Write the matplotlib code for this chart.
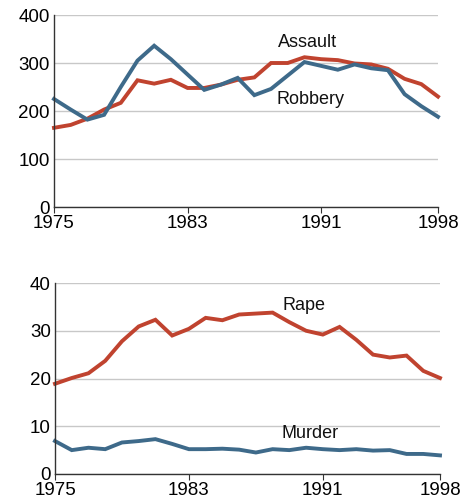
import matplotlib.pyplot as plt

plt.rcParams['font.family'] = ['Liberation Sans', 'DejaVu Sans']

years = list(range(1975, 1999))

# violent crime rates (top panel)
robbery = [225, 203, 182, 192, 250, 305, 336, 308, 276, 244, 255, 269,
           233, 246, 274, 302, 294, 286, 297, 289, 285, 235, 210, 188]
assault = [165, 171, 184, 203, 217, 264, 257, 265, 248, 248, 255, 265,
           270, 300, 300, 312, 308, 306, 299, 297, 288, 267, 256, 230]

# bottom panel
rape = [18.9, 20.1, 21.1, 23.7, 27.8, 30.9, 32.3, 29.0, 30.4, 32.7, 32.2, 33.4,
        33.6, 33.8, 31.8, 30.0, 29.2, 30.8, 28.1, 25.0, 24.4, 24.8, 21.6, 20.1]
murder = [6.9, 5.0, 5.5, 5.2, 6.6, 6.9, 7.3, 6.3, 5.2, 5.2, 5.3, 5.1,
          4.5, 5.2, 5.0, 5.5, 5.2, 5.0, 5.2, 4.9, 5.0, 4.2, 4.2, 3.9]

xticks = [1975, 1983, 1991, 1998]

red = '#c0432f'
blue = '#3e6a8a'
fs = 13.5

fig = plt.figure(figsize=(4.67, 5.04), dpi=100)
W, H = 467, 504


def setup(ax, ymax, ystep):
    ax.set_xlim(1975, 1998)
    ax.set_ylim(0, ymax)
    ax.set_xticks(xticks)
    ax.set_yticks(range(0, ymax + 1, ystep))
    ax.tick_params(axis='x', length=4, width=0.8, color='#333333', pad=2,
                   labelsize=fs)
    ax.tick_params(axis='y', length=0, pad=3, labelsize=fs)
    for s in ['top', 'right']:
        ax.spines[s].set_visible(False)
    for s in ['left', 'bottom']:
        ax.spines[s].set_color('#333333')
        ax.spines[s].set_linewidth(1.0)
    ax.grid(axis='y', color='#c8c8c8', linewidth=1.0)
    ax.set_axisbelow(True)


ax1 = fig.add_axes([54 / W, 1 - 207 / H, 384 / W, 192 / H])
setup(ax1, 400, 100)
ax1.plot(years, assault, color=red, lw=2.8, solid_joinstyle='miter', clip_on=False)
ax1.plot(years, robbery, color=blue, lw=2.8, solid_joinstyle='miter', clip_on=False)
ax1.text(1988.4, 342, 'Assault', fontsize=13, va='center', color='#111111')
ax1.text(1988.35, 225, 'Robbery', fontsize=13, va='center', color='#111111')

ax2 = fig.add_axes([55 / W, 1 - 474 / H, 385 / W, 191 / H])
setup(ax2, 40, 10)
ax2.plot(years, rape, color=red, lw=2.8, solid_joinstyle='miter', clip_on=False)
ax2.plot(years, murder, color=blue, lw=2.8, solid_joinstyle='miter', clip_on=False)
ax2.text(1988.6, 35.2, 'Rape', fontsize=13, va='center', color='#111111')
ax2.text(1988.55, 8.4, 'Murder', fontsize=13, va='center', color='#111111')

fig.savefig('out.png', dpi=100)
